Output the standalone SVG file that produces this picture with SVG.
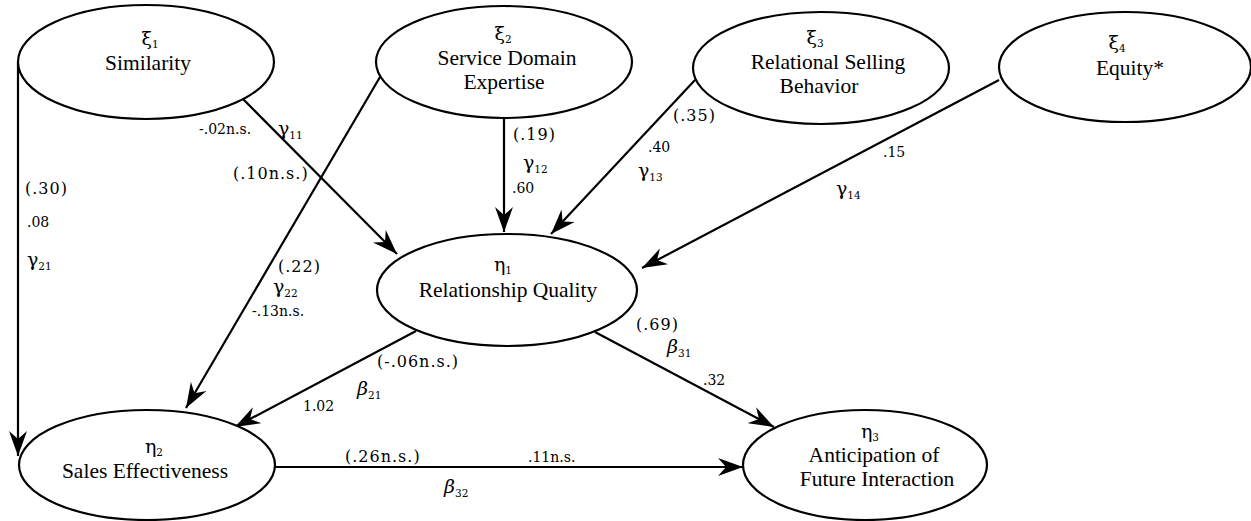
<svg xmlns="http://www.w3.org/2000/svg" width="1251" height="521" viewBox="0 0 1251 521">
<style>
.bg{fill:#ffffff}
.node ellipse{fill:#ffffff;stroke:#000;stroke-width:2.2}
.nt{font-family:"Liberation Serif","DejaVu Serif",serif;font-size:21.5px;fill:#000;text-anchor:middle}
.gk{font-family:"DejaVu Serif","Liberation Serif",serif;font-size:19px;fill:#000;text-anchor:middle}
.sb{font-size:10.5px}
.edge{stroke:#000;stroke-width:2.2;fill:none;marker-end:url(#ah)}
.num{font-family:"DejaVu Serif","Liberation Serif",serif;font-size:14px;fill:#000}
.par{font-family:"DejaVu Serif","Liberation Serif",serif;font-size:16px;letter-spacing:1px;fill:#000}
.gm{font-family:"DejaVu Serif","Liberation Serif",serif;font-size:19px;fill:#000}
.bt{font-family:"DejaVu Serif","Liberation Serif",serif;font-size:19px;font-style:italic;fill:#000}
</style>
<defs>
<marker id="ah" viewBox="-25 -10 26 20" refX="0" refY="0" markerWidth="26" markerHeight="20" markerUnits="userSpaceOnUse" orient="auto">
<path d="M0,0 L-25,-9 L-17,0 L-25,9 Z" fill="#000"/>
</marker>
</defs>
<rect class="bg" x="0" y="0" width="1251" height="521"/>

<g id="connectors">
<path class="edge" d="M18,62 L18,456"/>
<path class="edge" d="M243,99 L397,254"/>
<path class="edge" d="M380,77 L186,408"/>
<path class="edge" d="M504,118 L504,232"/>
<path class="edge" d="M695,80 L551,234"/>
<path class="edge" d="M999,80 L642,268"/>
<path class="edge" d="M416,331 L235,427"/>
<path class="edge" d="M595,332 L774,427"/>
<path class="edge" d="M275,467 L743,467"/>
</g>

<g id="labels">
<text class="num" x="199" y="134">-.02n.s.</text>
<text class="gm" x="278" y="135">γ<tspan class="sb" dy="4">11</tspan></text>
<text class="par" x="233" y="179">(.10n.s.)</text>
<text class="par" x="513" y="140">(.19)</text>
<text class="gm" x="523" y="169">γ<tspan class="sb" dy="4">12</tspan></text>
<text class="num" x="512" y="193">.60</text>
<text class="par" x="673" y="121">(.35)</text>
<text class="num" x="648" y="152">.40</text>
<text class="gm" x="638" y="177">γ<tspan class="sb" dy="4">13</tspan></text>
<text class="num" x="883" y="157">.15</text>
<text class="gm" x="836" y="195">γ<tspan class="sb" dy="4">14</tspan></text>
<text class="par" x="25" y="194">(.30)</text>
<text class="num" x="27" y="227">.08</text>
<text class="gm" x="27" y="266">γ<tspan class="sb" dy="4">21</tspan></text>
<text class="par" x="278" y="272">(.22)</text>
<text class="gm" x="273" y="293">γ<tspan class="sb" dy="4">22</tspan></text>
<text class="num" x="252" y="316">-.13n.s.</text>
<text class="par" x="377" y="367">(-.06n.s.)</text>
<text class="bt" x="357" y="395">β<tspan class="sb" dy="4" font-style="normal">21</tspan></text>
<text class="num" x="303" y="411">1.02</text>
<text class="par" x="636" y="330">(.69)</text>
<text class="bt" x="667" y="353">β<tspan class="sb" dy="4" font-style="normal">31</tspan></text>
<text class="num" x="703" y="385">.32</text>
<text class="par" x="345" y="462">(.26n.s.)</text>
<text class="num" x="528" y="462">.11n.s.</text>
<text class="bt" x="444" y="493">β<tspan class="sb" dy="4" font-style="normal">32</tspan></text>
</g>

<g id="similarity" class="node">
<ellipse cx="146" cy="62" rx="128" ry="57"/>
<text class="gk" x="150" y="45">ξ<tspan class="sb" dy="3">1</tspan></text>
<text class="nt" x="148" y="70">Similarity</text>
</g>

<g id="service-domain-expertise" class="node">
<ellipse cx="504" cy="62" rx="128" ry="56"/>
<text class="gk" x="503" y="40">ξ<tspan class="sb" dy="3">2</tspan></text>
<text class="nt" x="507" y="65">Service Domain</text>
<text class="nt" x="504" y="89">Expertise</text>
</g>

<g id="relational-selling-behavior" class="node">
<ellipse cx="821" cy="68" rx="128" ry="56"/>
<text class="gk" x="815" y="44">ξ<tspan class="sb" dy="3">3</tspan></text>
<text class="nt" x="828" y="69">Relational Selling</text>
<text class="nt" x="819" y="93">Behavior</text>
</g>

<g id="equity" class="node">
<ellipse cx="1125" cy="67" rx="126" ry="55"/>
<text class="gk" x="1117" y="49">ξ<tspan class="sb" dy="3">4</tspan></text>
<text class="nt" x="1130" y="75">Equity*</text>
</g>

<g id="relationship-quality" class="node">
<ellipse cx="507" cy="290" rx="130" ry="56"/>
<text class="gk" x="503" y="271">η<tspan class="sb" dy="3">1</tspan></text>
<text class="nt" x="508" y="297">Relationship Quality</text>
</g>

<g id="sales-effectiveness" class="node">
<ellipse cx="147" cy="465" rx="128" ry="55"/>
<text class="gk" x="154" y="453">η<tspan class="sb" dy="3">2</tspan></text>
<text class="nt" x="145" y="478">Sales Effectiveness</text>
</g>

<g id="anticipation-of-future-interaction" class="node">
<ellipse cx="865" cy="465" rx="122" ry="55"/>
<text class="gk" x="870" y="438">η<tspan class="sb" dy="3">3</tspan></text>
<text class="nt" x="874" y="462">Anticipation of</text>
<text class="nt" x="877" y="486">Future Interaction</text>
</g>
</svg>
